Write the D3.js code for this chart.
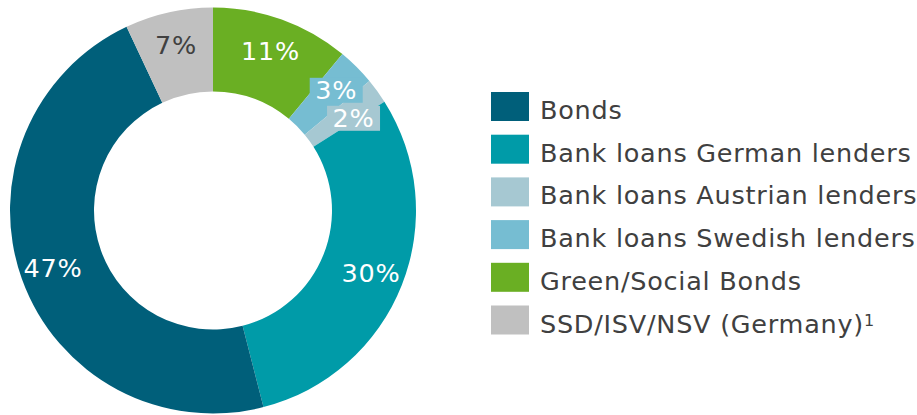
<!DOCTYPE html>
<html>
<head>
<meta charset="utf-8">
<script src="https://cdn.jsdelivr.net/npm/d3@7"></script>
<style>
  body { margin: 0; background: #fff; }
  svg { display: block; }
</style>
</head>
<body>
<script>
// clockwise from 12 o'clock
const categories = ["Green/Social Bonds", "Bank loans Swedish lenders", "Bank loans Austrian lenders",
    "Bank loans German lenders", "Bonds", "SSD/ISV/NSV (Germany)"];
const shares = [11, 3, 2, 30, 47, 7];
const colors = ["#6aaf23", "#76bdd2", "#a6c8d2", "#009ba8", "#005f7a", "#c0c0c0"];
const labelColors = ["#fff", "#fff", "#fff", "#fff", "#fff", "#404040"];
// legend order
const legendOrder = ["Bonds", "Bank loans German lenders", "Bank loans Austrian lenders",
    "Bank loans Swedish lenders", "Green/Social Bonds", "SSD/ISV/NSV (Germany)"];

const width = 917;
const height = 415;
const cx = 213, cy = 210.5;
const outerR = 203, innerR = 119, labelR = 170;
const font = "'DejaVu Sans', Verdana, sans-serif";
const fontSize = 25.5;
const spacing = 0.75;

const svg = d3.select("body").append("svg")
    .attr("width", width)
    .attr("height", height);

const data = categories.map((c, i) => ({ name: c, value: shares[i], color: colors[i], text: labelColors[i] }));

const pie = d3.pie().value(d => d.value).sort(null);
const arcs = pie(data);
const arc = d3.arc().innerRadius(innerR).outerRadius(outerR);
const labelArc = d3.arc().innerRadius(labelR).outerRadius(labelR);

const g = svg.append("g").attr("transform", `translate(${cx},${cy})`);

g.selectAll("path.slice")
    .data(arcs)
    .join("path")
    .attr("class", "slice")
    .attr("fill", d => d.data.color)
    .attr("d", arc);

// labels; small slices get a box in the slice colour, pushed apart if they overlap
const boxW = 53, boxH = 25;
let lastBottom = -Infinity;
arcs.forEach(d => {
    let [x, y] = labelArc.centroid(d);
    const boxed = d.data.value < 5;
    if (boxed) {
        x += 3;
        if (y - boxH / 2 < lastBottom + 3) y = lastBottom + 3 + boxH / 2;
        lastBottom = y + boxH / 2;
        g.append("rect")
            .attr("x", x - boxW / 2)
            .attr("y", y - boxH / 2)
            .attr("width", boxW)
            .attr("height", boxH)
            .attr("fill", d.data.color);
    }
    g.append("text")
        .attr("x", x)
        .attr("y", y + 9)
        .attr("text-anchor", "middle")
        .attr("font-family", font)
        .attr("font-size", fontSize)
        .attr("letter-spacing", spacing)
        .attr("fill", d.data.text)
        .text(d.data.value + "%");
});

// legend
const colorOf = d3.scaleOrdinal().domain(categories).range(colors);
const legend = svg.append("g").attr("transform", "translate(491,92)");
const rowH = 42.7;
const rows = legend.selectAll("g")
    .data(legendOrder)
    .join("g")
    .attr("transform", (d, i) => `translate(0,${i * rowH})`);

rows.append("rect")
    .attr("width", 38)
    .attr("height", 29)
    .attr("fill", d => colorOf(d));

const texts = rows.append("text")
    .attr("x", 49)
    .attr("y", 27)
    .attr("font-family", font)
    .attr("font-size", fontSize)
    .attr("letter-spacing", spacing)
    .attr("fill", "#404040");

texts.append("tspan").text(d => d);
texts.filter(d => d.startsWith("SSD"))
    .append("tspan")
    .attr("font-size", 16)
    .attr("dy", -7)
    .text("1");
</script>
</body>
</html>
